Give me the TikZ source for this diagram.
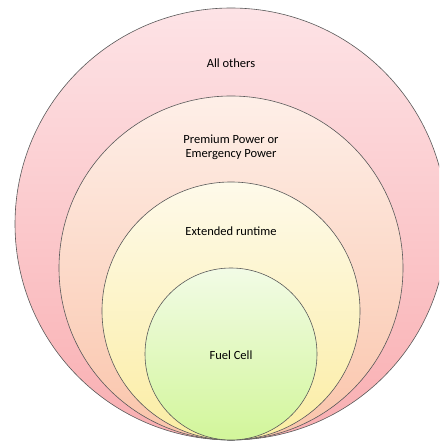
\documentclass[tikz,border=0pt]{standalone}
\usepackage{fontspec}
\setmainfont{Carlito}
\usepackage{tikz}
\usetikzlibrary{positioning}
\usepackage{xcolor}

\definecolor{othersTop}{HTML}{FDE3E6}
\definecolor{othersBot}{HTML}{F9AEB1}
\definecolor{premTop}{HTML}{FEEFE8}
\definecolor{premBot}{HTML}{FAC4AA}
\definecolor{extTop}{HTML}{FEFAEA}
\definecolor{extBot}{HTML}{FBEDA3}
\definecolor{fuelTop}{HTML}{F2FBE6}
\definecolor{fuelBot}{HTML}{D2F69A}

\begin{document}
\begin{tikzpicture}[
    x=1pt, y=1pt,
    ring/.style={circle, draw=black!65, line width=0.6pt, inner sep=0pt, shading=axis, shading angle=0},
    lbl/.style={align=center, font=\fontsize{12.5}{14}\selectfont, text=black}
]
\useasboundingbox (0,0) rectangle (439,444);
\clip (0,0) rectangle (439,444);

\node[ring, minimum size=432pt, top color=othersTop, bottom color=othersBot] (others) at (231,220) {};
\node[ring, minimum size=344pt, top color=premTop, bottom color=premBot] (premium) at (231,176) {};
\node[ring, minimum size=258pt, top color=extTop, bottom color=extBot] (extended) at (231,133) {};
\node[ring, minimum size=172pt, top color=fuelTop, bottom color=fuelBot] (fuel) at (231,90) {};

\node[lbl] (otherstext) at (231,381) {All others};
\node[lbl] (premtext) at (231,297) {Premium Power or\\Emergency Power};
\node[lbl] (exttext) at (231,213) {Extended runtime};
\node[lbl] (fueltext) at (231,89) {Fuel Cell};
\end{tikzpicture}
\end{document}
